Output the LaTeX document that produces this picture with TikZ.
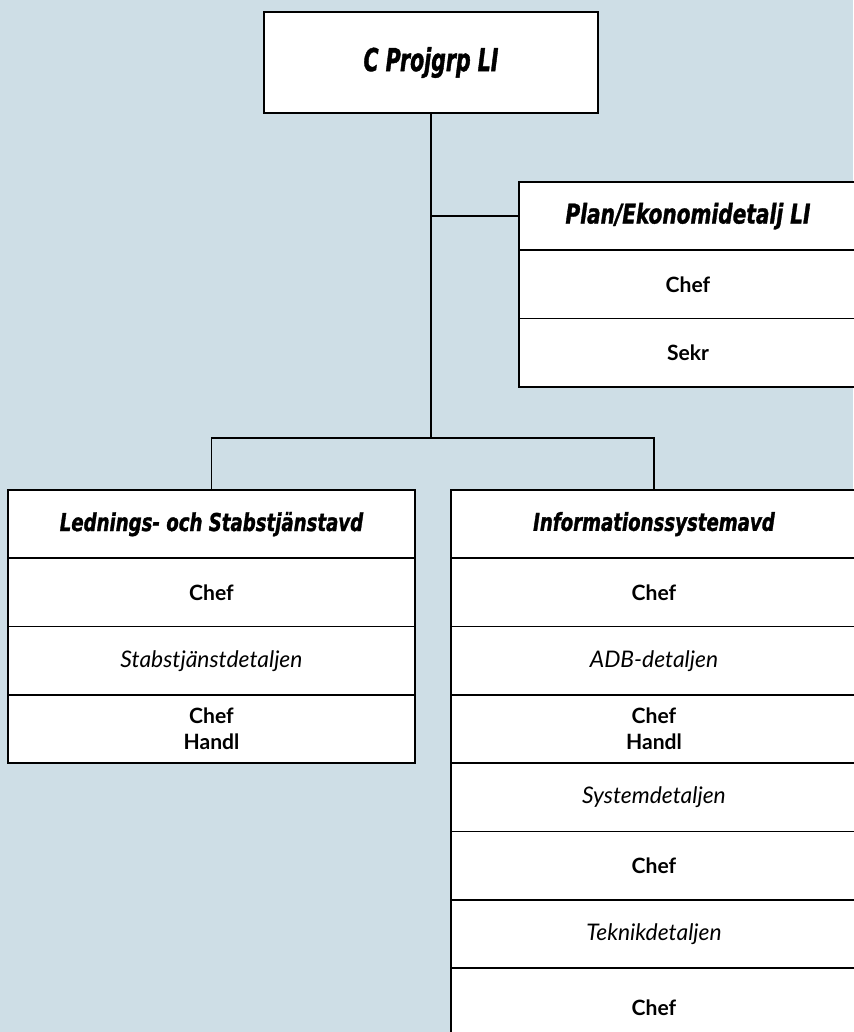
\documentclass[tikz,border=0pt]{standalone}
\usepackage{fontspec}
\setmainfont{Lato}
\newfontfamily\headfont{DejaVuSansCondensed-BoldOblique.ttf}[FakeStretch=0.82, FakeBold=1.2]
\newfontfamily\topfont{DejaVuSansCondensed-BoldOblique.ttf}[FakeStretch=0.72, FakeBold=1.2]
\usepackage{tikz}
\usetikzlibrary{positioning, calc}
\definecolor{paper}{RGB}{206,222,230}
\tikzset{cell/.style={draw, fill=white, line width=1pt, inner sep=0pt, outer sep=0pt, minimum height=1.366cm, align=center}}
\tikzset{head/.append style={cell, font=\headfont\fontsize{14}{16}\selectfont}}
\tikzset{post/.append style={cell, font=\bfseries\fontsize{12}{15}\selectfont}}
\tikzset{unit/.append style={cell, font=\itshape\fontsize{13}{15}\selectfont}}
\tikzset{wire/.style={line width=1pt}}

\begin{document}
\begin{tikzpicture}[x=0.02cm, y=-0.02cm]
      \fill[paper] (0,0) rectangle (853,1032);
      \useasboundingbox (0,0) rectangle (853,1032);

      \node[cell, minimum width=6.68cm, minimum height=2.02cm, font=\topfont\fontsize{18}{20}\selectfont] (top) at (431,62.5) {C Projgrp LI};

      % staff unit on the right
      \node[head, anchor=north west, minimum width=6.76cm, font=\headfont\fontsize{15.5}{16}\selectfont] (plan) at (519,182) {Plan/Ekonomidetalj LI};
      \node[post, minimum width=6.76cm, below=0pt of plan] (planchef) {Chef};
      \node[post, minimum width=6.76cm, below=0pt of planchef] (plansekr) {Sekr};

      % left department
      \node[head, anchor=north west, minimum width=8.14cm] (lsd) at (8,490) {Lednings- och Stabstjänstavd};
      \node[post, minimum width=8.14cm, below=0pt of lsd] (lsdchef) {Chef};
      \node[unit, minimum width=8.14cm, below=0pt of lsdchef] (stab) {Stabstjänstdetaljen};
      \node[post, minimum width=8.14cm, below=0pt of stab] (stabchef) {Chef\\Handl};

      % right department
      \node[head, anchor=north west, minimum width=8.12cm] (isa) at (451,490) {Informationssystemavd};
      \node[post, minimum width=8.12cm, below=0pt of isa] (isachef) {Chef};
      \node[unit, minimum width=8.12cm, below=0pt of isachef] (adb) {ADB-detaljen};
      \node[post, minimum width=8.12cm, below=0pt of adb] (adbchef) {Chef\\Handl};
      \node[unit, minimum width=8.12cm, below=0pt of adbchef] (sys) {Systemdetaljen};
      \node[post, minimum width=8.12cm, below=0pt of sys] (syschef) {Chef};
      \node[unit, minimum width=8.12cm, below=0pt of syschef] (tek) {Teknikdetaljen};
      \node[post, minimum width=8.12cm, minimum height=1.6cm, below=0pt of tek] (tekchef) {Chef};

      \coordinate (bar) at (434,438);
      \draw[wire] (top.south) -- (top.south |- bar);
      \draw[wire] (top.south |- plan.west) -- (plan.west);
      \draw[wire] (lsd.north) |- (isa.north |- bar) -- (isa.north);
    \end{tikzpicture}
\end{document}
